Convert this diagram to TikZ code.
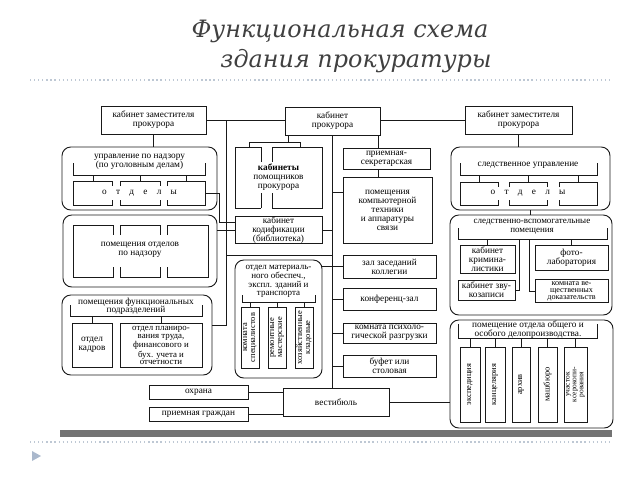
\documentclass[tikz,border=0pt]{standalone}
\usepackage{fontspec}
\setmainfont{Liberation Serif}
\newfontfamily\titlefont{DejaVu Serif}
\usetikzlibrary{positioning}

\tikzset{
  wall/.style={line width=0.65pt, draw=black!90},
  room/.style 2 args={wall, rectangle, minimum width=#1*0.25mm, minimum height=#2*0.25mm,
    inner sep=0pt, font=\fontsize{6.6}{6.4}\selectfont, align=center},
  hall/.style 2 args={room={#1}{#2}, rounded corners=2.2mm},
  lbl/.style={font=\fontsize{6.6}{6.4}\selectfont, align=center, inner sep=0pt},
  upright/.style 2 args={room={#1}{#2}, rotate=90, font=\fontsize{6}{5.6}\selectfont},
}

\begin{document}
\begin{tikzpicture}[x=0.25mm, y=-0.25mm]
  \useasboundingbox (0,0) rectangle (640,480);

  % title
  \node[anchor=base, text=black!75, font=\titlefont\itshape\fontsize{17}{21}\selectfont] (title1) at (340,37) {Функциональная схема};
  \node[anchor=base, text=black!75, font=\titlefont\itshape\fontsize{17}{21}\selectfont] (title2) at (356,67) {здания прокуратуры};
  \draw[dotted, line width=0.9pt, color={rgb,255:red,190;green,200;blue,212}] (30,80) -- (612,80);
  \draw[dotted, line width=0.9pt, color={rgb,255:red,190;green,200;blue,212}] (30,442) -- (612,442);
  \fill[color={rgb,255:red,170;green,184;blue,204}] (32,451) -- (41,456) -- (32,461) -- cycle;
  \fill[black!55] (60,430) rectangle (612,437);

  % top row
  \node[room={105}{28}] (zamL) at (153.5,120) {кабинет заместителя\\прокурора};
  \node[room={95}{28}] (prok) at (332.5,121) {кабинет\\прокурора};
  \node[room={107}{28}] (zamR) at (518.5,120) {кабинет заместителя\\прокурора};

  % left column
  \node[hall={155}{63}] (upr) at (139.5,178.5) {};
  \node[lbl] (uprT) at (139.5,162) {управление по надзору\\(по уголовным делам)};
  \draw[wall] (73,163) -- (73,175) -- (205,175) -- (205,163);
  \foreach \x in {93,140,186} \draw[wall] (\x,175) -- (\x,181);
  \foreach \a/\b in {73/112,120/160,167/205}
    \draw[wall] (\a,186) -- (\a,181) -- (\b,181) -- (\b,186) (\a,200) -- (\a,205) -- (\b,205) -- (\b,200);
  \draw[wall] (73,186) -- (73,200) (205,186) -- (205,200);
  \node[lbl] (uprO) at (139.5,193) {о\quad т\quad д\quad е\quad л\quad ы};
  \coordinate (u3) at (205,193);

  \node[hall={154}{72}] (otd) at (140,251) {};
  \foreach \a/\b in {73/113,120/160,167/208}
    \draw[wall] (\a,235) -- (\a,225) -- (\b,225) -- (\b,235) (\a,267) -- (\a,277) -- (\b,277) -- (\b,267);
  \draw[wall] (73,235) -- (73,267) (208,235) -- (208,267);
  \node[lbl] (otdT) at (140,250) {помещения отделов\\по надзору};

  \node[hall={150}{80}] (func) at (137,335) {};
  \node[lbl, font=\fontsize{6.6}{6}\selectfont] (funcT) at (136,306.5) {помещения функциональных\\подразделений};
  \draw[wall] (70,305) -- (70,316) -- (202,316) -- (202,305);
  \node[room={40}{44}] (kadr) at (92,345) {отдел\\кадров};
  \node[room={82}{44}, font=\fontsize{6.3}{5.5}\selectfont] (plan) at (161,345.5) {отдел планиро-\\вания труда,\\финансового и\\бух. учета и\\отчетности};
  \draw[wall] (kadr.north |- 0,316) -- (kadr.north);
  \draw[wall] (plan.north |- 0,316) -- (plan.north);

  \node[room={99}{14}] (ohr) at (198.5,392) {охрана};
  \node[room={99}{14}] (priemG) at (198.5,414) {приемная граждан};

  % middle column
  \draw[wall] (261,147) -- (235,147) -- (235,208) -- (261,208) (261,147) -- (261,162) (261,193) -- (261,208);
  \draw[wall] (272,147) -- (322,147) -- (322,208) -- (272,208) (272,147) -- (272,162) (272,193) -- (272,208);
  \node[lbl] (pom) at (278.5,177.5) {\textbf{кабинеты}\\помощников\\прокурора};
  \draw[wall] (288,135) -- (288,142) (249,147) -- (249,142) -- (300,142) -- (300,147);

  \node[room={87}{26}] (kod) at (278.5,230) {кабинет\\кодификации\\(библиотека)};

  \node[hall={87}{118}] (mat) at (278.5,319) {};
  \node[lbl, font=\fontsize{6.4}{5.8}\selectfont] (matT) at (278.5,281) {отдел материаль-\\ного обеспеч.,\\экспл. зданий и\\транспорта};
  \draw[wall] (242,295) -- (242,302) -- (315,302) -- (315,295);
  \node[upright={61}{18}] (m1) at (250,337.5) {комната\\специалистов};
  \node[upright={61}{18}] (m2) at (277,337.5) {ремонтные\\мастерские};
  \node[upright={61}{18}] (m3) at (304,337.5) {хозяйственные\\кладовые};
  \foreach \m in {m1,m2,m3} \draw[wall] (\m |- 0,302) -- (\m |- 0,307);

  % right-middle column
  \node[room={87}{21}] (sekr) at (386.5,158.5) {приемная-\\секретарская};
  \node[room={89}{66}] (comp) at (387.5,210) {помещения\\компьютерной\\техники\\и аппаратуры\\связи};
  \node[room={93}{23}] (zal) at (389.5,266.5) {зал заседаний\\коллегии};
  \node[room={93}{22}] (konf) at (389.5,299) {конференц-зал};
  \node[room={93}{20}] (psy) at (389.5,333) {комната психоло-\\гической разгрузки};
  \node[room={93}{22}] (buf) at (389.5,366) {буфет или\\столовая};
  \node[room={106}{28}] (vest) at (336,402) {вестибюль};

  % right column
  \node[hall={159}{63}] (sled) at (530.5,178.5) {};
  \node[lbl] (sledT) at (528,165) {следственное управление};
  \draw[wall] (460,163) -- (460,175) -- (597,175) -- (597,163);
  \foreach \x in {479,528,578} \draw[wall] (\x,175) -- (\x,182);
  \foreach \a/\b in {460/498,509/547,559/597}
    \draw[wall] (\a,187) -- (\a,182) -- (\b,182) -- (\b,187) (\a,200) -- (\a,205) -- (\b,205) -- (\b,200);
  \draw[wall] (460,187) -- (460,200) (597,187) -- (597,200);
  \node[lbl] (sledO) at (528,193.5) {о\quad т\quad д\quad е\quad л\quad ы};

  \node[hall={162}{100}] (vsp) at (531,265) {};
  \node[lbl, font=\fontsize{6.4}{6.2}\selectfont] (vspT) at (532,227) {следственно-вспомогательные\\помещения};
  \draw[wall] (458,228) -- (458,239) -- (607,239) -- (607,228);
  \node[room={55}{28}] (krim) at (487.5,259) {кабинет\\кримина-\\листики};
  \node[room={73}{25}] (foto) at (571.5,257.5) {фото-\\лаборатория};
  \node[room={57}{20}] (zvuk) at (486.5,290) {кабинет зву-\\козаписи};
  \node[room={73}{23}, font=\fontsize{5.8}{5}\selectfont] (vesh) at (571.5,291) {комната ве-\\щественных\\доказательств};
  \draw[wall] (krim.north |- 0,239) -- (krim.north);
  \draw[wall] (foto.north |- 0,239) -- (foto.north);
  \draw[wall] (519,239) |- (zvuk.east);
  \draw[wall] (529,239) |- (vesh.west);

  \node[hall={163}{108}] (delo) at (531.5,374) {};
  \node[lbl, font=\fontsize{6.6}{6.2}\selectfont] (deloT) at (528,330) {помещение отдела общего и\\особого делопроизводства.};
  \draw[wall] (458,324) -- (458,338) -- (597,338) -- (597,324);
  \node[upright={75}{20}] (d1) at (470,384.5) {экспедиция};
  \node[upright={75}{20}] (d2) at (495,384.5) {канцелярия};
  \node[upright={75}{18}] (d3) at (521,384.5) {архив};
  \node[upright={75}{19}] (d4) at (547.5,384.5) {машбюро};
  \node[upright={75}{23}, font=\fontsize{5.3}{4.9}\selectfont] (d5) at (575.5,384.5) {участок\\ксерокопи-\\рования};
  \foreach \d in {d1,d2,d3,d4,d5} \draw[wall] (\d |- 0,338) -- (\d |- 0,347);

  % connectors
  \coordinate (lv) at (226,121);
  \coordinate (fj) at (226,325);
  \coordinate (mtop) at (226,255);
  \coordinate (kj) at (235,222);
  \coordinate (sx) at (378,135);
  \draw[wall] (zamL.east) -- (prok.west |- zamL.east);
  \draw[wall] (prok.east |- zamR.west) -- (zamR.west);
  \draw[wall] (zamL.south) -- (zamL.south |- upr.north);
  \draw[wall] (zamR.south) -- (zamR.south |- sled.north);
  \draw[wall] (sled.south) -- (sled.south |- vsp.north);
  \draw[wall] (sx) -- (sx |- sekr.north) (sx |- sekr.south) -- (sx |- comp.north);
  \draw[wall] (prok.south) -- (prok.south |- vest.north);
  \draw[wall] (comp.west |- 0,192) -- (prok.south |- 0,192);
  \draw[wall] (kod.east) -- (kod.east -| prok.south);
  \draw[wall] (mat.east |- zal.west) -- (zal.west);
  \foreach \r in {konf,psy,buf} \draw[wall] (\r.west) -- (\r.west -| prok.south);
  \draw[wall] (lv) -- (fj) -- (fj -| func.east);
  \draw[wall] (mtop) -- (mtop -| prok.south);
  \draw[wall] (u3) -- ++(14,0) |- (kj);
  \draw[wall] (kod.west -| otd.east) -- (kod.west);
  \draw[wall] (ohr.east) -- (ohr.east -| vest.west);
  \draw[wall] (priemG.east) -- (priemG.east -| vest.west);
  \draw[wall] (vest.east) -- (vest.east -| delo.west);
\end{tikzpicture}
\end{document}
